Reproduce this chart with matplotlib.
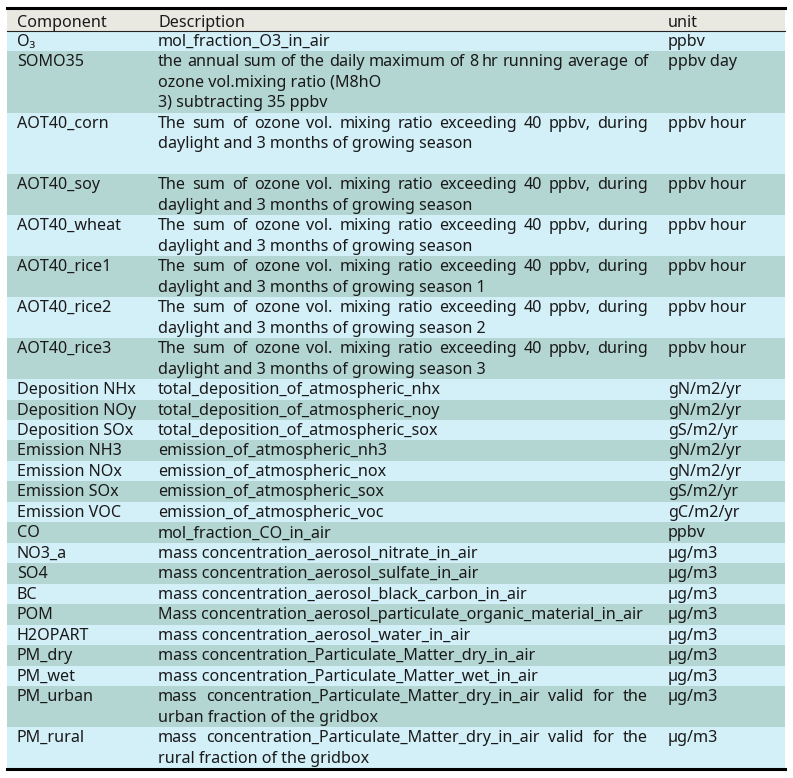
import matplotlib
matplotlib.use("Agg")
import matplotlib.pyplot as plt
from matplotlib.patches import Rectangle

plt.rcParams['font.family'] = ['Noto Sans', 'DejaVu Sans']

OUTPUT_IMG = "out.png"

# Dados da tabela
headers = ["Component", "Description", "unit"]

components = ["O\u2083", "SOMO35", "AOT40_corn", "AOT40_soy", "AOT40_wheat",
              "AOT40_rice1", "AOT40_rice2", "AOT40_rice3", "Deposition NHx",
              "Deposition NOy", "Deposition SOx", "Emission NH3", "Emission NOx",
              "Emission SOx", "Emission VOC", "CO", "NO3_a", "SO4", "BC", "POM",
              "H2OPART", "PM_dry", "PM_wet", "PM_urban", "PM_rural"]

aot_line = "The sum of ozone vol. mixing ratio exceeding 40 ppbv, during"
descriptions = [
    ["mol_fraction_O3_in_air"],
    ["the annual sum of the daily maximum of 8 hr running average of",
     "ozone vol.mixing ratio (M8hO", "3) subtracting 35 ppbv"],
    [aot_line, "daylight and 3 months of growing season", ""],
    [aot_line, "daylight and 3 months of growing season"],
    [aot_line, "daylight and 3 months of growing season"],
    [aot_line, "daylight and 3 months of growing season 1"],
    [aot_line, "daylight and 3 months of growing season 2"],
    [aot_line, "daylight and 3 months of growing season 3"],
    ["total_deposition_of_atmospheric_nhx"],
    ["total_deposition_of_atmospheric_noy"],
    ["total_deposition_of_atmospheric_sox"],
    ["emission_of_atmospheric_nh3"],
    ["emission_of_atmospheric_nox"],
    ["emission_of_atmospheric_sox"],
    ["emission_of_atmospheric_voc"],
    ["mol_fraction_CO_in_air"],
    ["mass concentration_aerosol_nitrate_in_air"],
    ["mass concentration_aerosol_sulfate_in_air"],
    ["mass concentration_aerosol_black_carbon_in_air"],
    ["Mass concentration_aerosol_particulate_organic_material_in_air"],
    ["mass concentration_aerosol_water_in_air"],
    ["mass concentration_Particulate_Matter_dry_in_air"],
    ["mass concentration_Particulate_Matter_wet_in_air"],
    ["mass concentration_Particulate_Matter_dry_in_air valid for the",
     "urban fraction of the gridbox"],
    ["mass concentration_Particulate_Matter_dry_in_air valid for the",
     "rural fraction of the gridbox"],
]

units = ["ppbv", "ppbv day", "ppbv hour", "ppbv hour", "ppbv hour", "ppbv hour",
         "ppbv hour", "ppbv hour", "gN/m2/yr", "gN/m2/yr", "gS/m2/yr", "gN/m2/yr",
         "gN/m2/yr", "gS/m2/yr", "gC/m2/yr", "ppbv", "\u00b5g/m3", "\u00b5g/m3",
         "\u00b5g/m3", "\u00b5g/m3", "\u00b5g/m3", "\u00b5g/m3", "\u00b5g/m3",
         "\u00b5g/m3", "\u00b5g/m3"]

# Layout (pixels)
W, H = 793, 778
X_LEFT, X_RIGHT = 7, 785
COL_X = [17, 158, 668]
DESC_RIGHT = 648
HEAD_TOP, HEAD_BOT = 9, 31
TABLE_BOT = 768
LH = (TABLE_BOT - HEAD_BOT) / sum(len(d) for d in descriptions)
FS = 11.6
TXT = "#1a1a1a"
C_LIGHT = "#d3eff8"
C_DARK = "#b3d6d2"
C_HEAD = "#e9e9e1"

fig = plt.figure(figsize=(W / 100, H / 100), dpi=100)
ax = fig.add_axes([0, 0, 1, 1])
ax.set_xlim(0, W)
ax.set_ylim(H, 0)
ax.axis('off')
renderer = fig.canvas.get_renderer()


def justified(x0, x1, y, line):
    words = line.split()
    items = [ax.text(0, y, w, fontsize=FS, color=TXT, va='baseline') for w in words]
    widths = [t.get_window_extent(renderer).width for t in items]
    gap = (x1 - x0 - sum(widths)) / (len(words) - 1)
    x = x0
    for t, w in zip(items, widths):
        t.set_x(x)
        x += w + gap


# cabecalho
ax.add_patch(Rectangle((X_LEFT, HEAD_TOP), X_RIGHT - X_LEFT, HEAD_BOT - HEAD_TOP,
                       color=C_HEAD, lw=0))
for x, h in zip(COL_X, headers):
    ax.text(x, HEAD_BOT - 4, h, fontsize=FS, color=TXT, va='baseline')

top = HEAD_BOT
for i, (comp, desc, unit) in enumerate(zip(components, descriptions, units)):
    h = len(desc) * LH
    ax.add_patch(Rectangle((X_LEFT, top), X_RIGHT - X_LEFT, h,
                           color=C_LIGHT if i % 2 == 0 else C_DARK, lw=0))
    base = top + 15
    ax.text(COL_X[0], base, comp, fontsize=FS, color=TXT, va='baseline')
    ax.text(COL_X[2], base, unit, fontsize=FS, color=TXT, va='baseline')
    for j, line in enumerate(desc):
        y = base + j * LH
        if j == 0 and len(desc) > 1:
            justified(COL_X[1], DESC_RIGHT, y, line)
        else:
            ax.text(COL_X[1], y, line, fontsize=FS, color=TXT, va='baseline')
    top += h

ax.plot([X_LEFT, X_RIGHT], [HEAD_TOP - 1.5, HEAD_TOP - 1.5], color='black', lw=2.2)
ax.plot([X_LEFT, X_RIGHT], [HEAD_BOT, HEAD_BOT], color='#222222', lw=0.8)
ax.plot([X_LEFT, X_RIGHT], [TABLE_BOT + 1, TABLE_BOT + 1], color='black', lw=2.2)

fig.savefig(OUTPUT_IMG, dpi=100)
